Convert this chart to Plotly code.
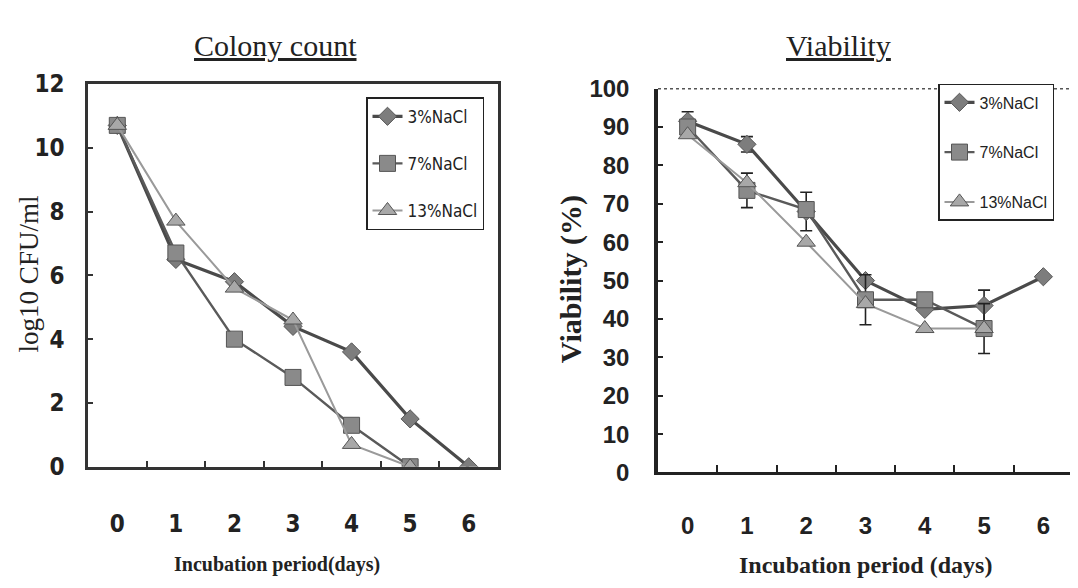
import plotly.graph_objects as go

# ---------------- data ----------------
days = ["0", "1", "2", "3", "4", "5", "6"]
series_names = ["3%NaCl", "7%NaCl", "13%NaCl"]

# Colony count (log10 CFU/ml)
cfu_3 = [10.7, 6.5, 5.8, 4.4, 3.6, 1.5, 0.0]
cfu_7 = [10.7, 6.7, 4.0, 2.8, 1.3, 0.0]
cfu_13 = [10.7, 7.7, 5.6, 4.6, 0.7, 0.0]

# Viability (%)
via_3 = [91.5, 85.5, 68.0, 50.0, 42.5, 43.5, 51.0]
via_3_err = [2.5, 2.0, 5.0, 0.0, 0.0, 4.0, 0.0]
via_7 = [90.0, 73.5, 68.5, 45.0, 45.0, 37.5]
via_7_err = [0.0, 4.5, 2.0, 6.5, 0.0, 6.5]
via_13 = [88.0, 75.5, 60.0, 44.0, 37.5, 37.5]

y_ticks_left = [0, 2, 4, 6, 8, 10, 12]
y_ticks_right = [0, 10, 20, 30, 40, 50, 60, 70, 80, 90, 100]

# ---------------- styles ----------------
W, H = 1078, 588
SERIF = "Liberation Serif, Times New Roman, serif"
NARROW = "Liberation Sans Narrow, DejaVu Sans Condensed, Arial Narrow, sans-serif"
SANS = "Liberation Sans, Arial, sans-serif"

line_styles = [
    dict(color="#4a4a4a", width=3.2),
    dict(color="#5a5a5a", width=2.4),
    dict(color="#9a9a9a", width=2.0),
]
marker_symbols = ["diamond", "square", "triangle-up"]
marker_sizes = [14, 16, 16]
marker_fill = ["#7d7d7d", "#8a8a8a", "#a8a8a8"]

fig = go.Figure()

left_vals = [cfu_3, cfu_7, cfu_13]
for i, vals in enumerate(left_vals):
    fig.add_trace(go.Scatter(
        x=days[:len(vals)], y=vals, name=series_names[i],
        mode="lines+markers", line=line_styles[i],
        marker=dict(symbol=marker_symbols[i], size=marker_sizes[i], color=marker_fill[i],
                    line=dict(color="#555555", width=1)),
        xaxis="x", yaxis="y", legend="legend", legendgroup="L%d" % i,
    ))

right_vals = [via_3, via_7, via_13]
right_errs = [via_3_err, via_7_err, None]
for i, vals in enumerate(right_vals):
    err = right_errs[i]
    fig.add_trace(go.Scatter(
        x=days[:len(vals)], y=vals, name=series_names[i],
        mode="lines+markers", line=line_styles[i],
        marker=dict(symbol=marker_symbols[i], size=marker_sizes[i], color=marker_fill[i],
                    line=dict(color="#555555", width=1)),
        error_y=(dict(type="data", array=err, visible=True, color="#222222",
                      thickness=1.6, width=6) if err else None),
        xaxis="x2", yaxis="y2", legend="legend2", legendgroup="R%d" % i,
    ))

# ---------------- layout ----------------
lx = [80 / W, 490 / W]
ly = [1 - 467 / H, 1 - 65 / H]
rx = [650 / W, 1065 / W]
ry = [1 - 473 / H, 1 - 70 / H]

tick_font_left = dict(family=NARROW, size=24, color="#222222", weight="bold")
tick_font_right = dict(family=SANS, size=24, color="#222222", weight="bold")

fig.update_layout(
    width=W, height=H, autosize=False,
    margin=dict(l=0, r=0, t=0, b=0),
    paper_bgcolor="white", plot_bgcolor="white",
    showlegend=True,
    xaxis=dict(domain=lx, anchor="y", type="category", categoryorder="array",
               categoryarray=days, range=[-0.5, 6.5], tickson="boundaries",
               ticks="inside", ticklen=6, tickwidth=2, tickcolor="#333333",
               showline=True, linecolor="#333333", linewidth=2.5, mirror=True,
               showgrid=False, zeroline=False, tickfont=tick_font_left,
               ticklabelstandoff=34),
    yaxis=dict(domain=ly, anchor="x", range=[0, 12], tickvals=y_ticks_left,
               ticks="inside", ticklen=5, tickwidth=2, tickcolor="#333333",
               showline=True, linecolor="#333333", linewidth=2.5, mirror=True,
               showgrid=False, zeroline=False, tickfont=tick_font_left,
               ticklabelstandoff=16),
    xaxis2=dict(domain=rx, anchor="y2", type="category", categoryorder="array",
                categoryarray=days, range=[-0.5, 6.5], tickson="boundaries",
                ticks="inside", ticklen=7, tickwidth=2, tickcolor="#222222",
                showline=True, linecolor="#222222", linewidth=3, mirror=False,
                showgrid=False, zeroline=False, tickfont=tick_font_right,
                ticklabelstandoff=30),
    yaxis2=dict(domain=ry, anchor="x2", range=[0, 100], tickvals=y_ticks_right,
                ticks="inside", ticklen=5, tickwidth=2, tickcolor="#222222",
                showline=True, linecolor="#222222", linewidth=3.5, mirror=False,
                showgrid=False, zeroline=False, tickfont=tick_font_right,
                ticklabelstandoff=20),
    legend=dict(x=358 / W, y=1 - 79 / H, xanchor="left", yanchor="top",
                bgcolor="white", bordercolor="#222222", borderwidth=1.5,
                font=dict(family=NARROW, size=17, color="#222222"),
                tracegroupgap=22, itemwidth=30),
    legend2=dict(x=930 / W, y=1 - 65 / H, xanchor="left", yanchor="top",
                 bgcolor="white", bordercolor="#222222", borderwidth=1.5,
                 font=dict(family=SANS, size=16, color="#222222"),
                 tracegroupgap=26, itemwidth=30),
    shapes=[dict(type="line", xref="paper", yref="paper",
                 x0=650 / W, x1=1.0, y0=ry[1], y1=ry[1],
                 line=dict(color="#555555", width=1.5, dash="dot"))],
    annotations=[
        dict(text="<u>Colony count</u>", x=267 / W, y=1 - 25 / H, xref="paper", yref="paper",
             showarrow=False, xanchor="center", yanchor="middle",
             font=dict(family=SERIF, size=30, color="#222222")),
        dict(text="<u>Viability</u>", x=830 / W, y=1 - 25 / H, xref="paper", yref="paper",
             showarrow=False, xanchor="center", yanchor="middle",
             font=dict(family=SERIF, size=30, color="#222222")),
        dict(text="log10 CFU/ml", x=21 / W, y=1 - 265 / H, xref="paper", yref="paper",
             showarrow=False, xanchor="center", yanchor="middle", textangle=-90,
             font=dict(family=SERIF, size=27, color="#222222")),
        dict(text="<b>Viability (%)</b>", x=563 / W, y=1 - 270 / H, xref="paper", yref="paper",
             showarrow=False, xanchor="center", yanchor="middle", textangle=-90,
             font=dict(family=SERIF, size=30, color="#222222")),
        dict(text="<b>Incubation period(days)</b>", x=269 / W, y=1 - 570 / H, xref="paper", yref="paper",
             showarrow=False, xanchor="center", yanchor="middle",
             font=dict(family=SERIF, size=20, color="#222222")),
        dict(text="<b>Incubation period (days)</b>", x=857 / W, y=1 - 570 / H, xref="paper", yref="paper",
             showarrow=False, xanchor="center", yanchor="middle",
             font=dict(family=SERIF, size=24, color="#222222")),
    ],
)

fig.write_html("out.html")
